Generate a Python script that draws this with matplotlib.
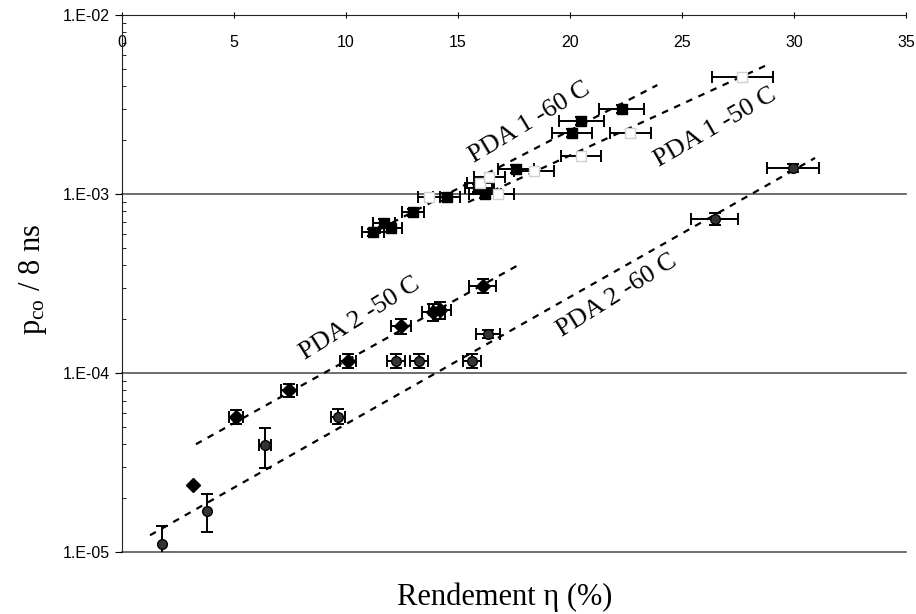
import numpy as np
import matplotlib
matplotlib.use("Agg")
import matplotlib.pyplot as plt

# PDA 1 -60 C (filled squares)
p1_60_x = [11.2, 11.7, 12.0, 13.0, 14.5, 15.9, 16.2, 17.6, 20.1, 20.5, 22.3]
p1_60_y = [6.1e-4, 6.9e-4, 6.45e-4, 7.9e-4, 9.6e-4, 1.08e-3, 1.0e-3, 1.38e-3, 2.19e-3, 2.56e-3, 3.0e-3]
p1_60_xerr = [0.5, 0.5, 0.5, 0.5, 0.6, 0.6, 0.7, 0.8, 0.9, 1.0, 1.0]

# PDA 1 -50 C (open squares)
p1_50_x = [13.7, 16.0, 16.4, 16.8, 18.4, 20.5, 22.7, 27.7]
p1_50_y = [9.6e-4, 1.15e-3, 1.24e-3, 1.0e-3, 1.35e-3, 1.63e-3, 2.19e-3, 4.5e-3]
p1_50_xerr = [0.5, 0.6, 0.7, 0.7, 0.9, 0.9, 0.9, 1.35]

# PDA 2 -50 C (diamonds)
p2_50_x = [3.17, 5.09, 7.46, 10.1, 12.45, 13.9, 14.2, 16.1]
p2_50_y = [2.37e-5, 5.7e-5, 8.0e-5, 1.17e-4, 1.83e-4, 2.19e-4, 2.25e-4, 3.06e-4]
p2_50_xerr = [0.0, 0.3, 0.35, 0.35, 0.45, 0.5, 0.5, 0.6]
p2_50_yerr = [0.0, 0.5e-5, 0.7e-5, 1.0e-5, 1.7e-5, 2.3e-5, 2.5e-5, 2.8e-5]

# PDA 2 -60 C (circles)
p2_60_x = [1.79, 3.79, 6.38, 9.64, 12.23, 13.26, 15.63, 16.34, 26.47, 29.96]
p2_60_y = [1.11e-5, 1.69e-5, 3.96e-5, 5.68e-5, 1.17e-4, 1.17e-4, 1.17e-4, 1.65e-4, 7.24e-4, 1.40e-3]
p2_60_xerr = [0.0, 0.0, 0.25, 0.3, 0.4, 0.4, 0.4, 0.55, 1.05, 1.16]
p2_60_ylo = [0.2e-5, 0.4e-5, 1.0e-5, 0.5e-5, 1.0e-5, 1.0e-5, 1.0e-5, 0.8e-5, 0.5e-4, 0.8e-4]
p2_60_yhi = [0.29e-5, 0.41e-5, 0.97e-5, 0.6e-5, 1.1e-5, 1.1e-5, 1.1e-5, 0.8e-5, 0.6e-4, 0.8e-4]

# dashed trend lines (end points)
fit_p1_60 = ([11.0, 23.9], [5.9e-4, 4.06e-3])
fit_p1_50 = ([15.45, 28.8], [9.0e-4, 5.26e-3])
fit_p2_50 = ([3.3, 17.68], [4.0e-5, 4.0e-4])
fit_p2_60 = ([1.25, 30.94], [1.24e-5, 1.59e-3])

labels = ["PDA 1 -60 C", "PDA 1 -50 C", "PDA 2 -50 C", "PDA 2 -60 C"]
label_x = [18.2, 26.5, 10.6, 22.1]
label_y = [2.52e-3, 2.34e-3, 2.0e-4, 2.69e-4]
label_rot = [31, 30, 32, 32]

xticks = [0, 5, 10, 15, 20, 25, 30, 35]
yticks = [1e-5, 1e-4, 1e-3, 1e-2]
ytick_labels = ["1.E-05", "1.E-04", "1.E-03", "1.E-02"]

plt.rcParams['font.family'] = ['Liberation Sans', 'DejaVu Sans']
serif = ['Liberation Serif', 'DejaVu Serif']

fig = plt.figure(figsize=(9.16, 6.14), dpi=100)
ax = fig.add_axes([0.1332, 0.1010, 0.8559, 0.8746])

ax.set_yscale('log')
ax.set_xlim(0, 35)
ax.set_ylim(1e-5, 1e-2)

# grid lines at each decade
for v in yticks[:-1]:
    ax.axhline(v, color='#555555', lw=1.2, zorder=1, clip_on=False)

ebkw = dict(ecolor='black', elinewidth=1.4, capsize=4, capthick=1.4, ls='none', zorder=3)

ax.errorbar(p1_60_x, p1_60_y, xerr=p1_60_xerr, yerr=[v * 0.05 for v in p1_60_y],
            marker='s', ms=7, mfc='black', mec='black', **ebkw)
ax.errorbar(p1_50_x, p1_50_y, xerr=p1_50_xerr,
            marker='s', ms=7, mfc='white', mec='#d0d0d0', **ebkw)
ax.errorbar(p2_50_x, p2_50_y, xerr=p2_50_xerr, yerr=p2_50_yerr,
            marker='D', ms=7.5, mfc='black', mec='black', **ebkw)
ax.errorbar(p2_60_x, p2_60_y, xerr=p2_60_xerr, yerr=[p2_60_ylo, p2_60_yhi],
            marker='o', ms=7, mfc='#333333', mec='black', **ebkw)

for fx, fy in [fit_p1_60, fit_p1_50, fit_p2_50, fit_p2_60]:
    ax.plot(fx, fy, ls=(0, (3, 3)), color='black', lw=1.6, zorder=2)

for t, lx, ly, r in zip(labels, label_x, label_y, label_rot):
    ax.text(lx, ly, t, rotation=r, ha='center', va='center',
            fontsize=19, family=serif, rotation_mode='anchor')

ax.spines['right'].set_visible(False)
ax.spines['bottom'].set_visible(False)
ax.spines['left'].set_color('#222222')
ax.spines['top'].set_color('#222222')

ax.set_xticks(xticks)
ax.set_xticklabels([str(v) for v in xticks])
ax.tick_params(axis='x', which='both', top=True, bottom=False, labeltop=True,
               labelbottom=False, direction='inout', length=5, pad=-28, labelsize=11.5)
ax.set_yticks(yticks)
ax.set_yticklabels(ytick_labels)
ax.tick_params(axis='y', which='major', direction='out', length=5, labelsize=11.5)
ax.tick_params(axis='y', which='minor', direction='in', length=3)
ax.yaxis.set_minor_formatter(matplotlib.ticker.NullFormatter())

fig.text(0.036, 0.544, r'$\mathregular{p_{co}}$ / 8 ns', rotation=90,
         ha='center', va='center', fontsize=22, family=serif)
fig.text(0.551, 0.028, 'Rendement \u03b7 (%)', ha='center', va='center',
         fontsize=22, family=serif)

fig.savefig('out.png', dpi=100)
